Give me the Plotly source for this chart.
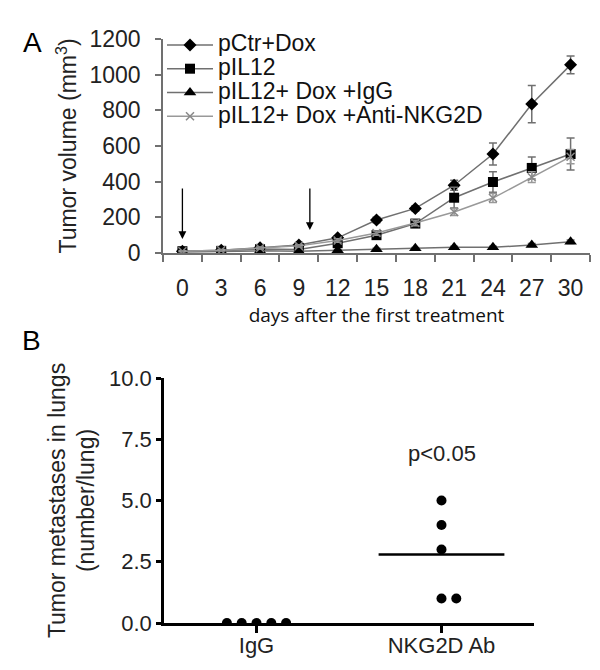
import plotly.graph_objects as go

# ---------------- Panel A data ----------------
days = [0, 3, 6, 9, 12, 15, 18, 21, 24, 27, 30]
pctr_dox = [10, 15, 30, 45, 85, 185, 250, 380, 555, 835, 1055]
pctr_dox_err = [3, 4, 6, 8, 12, 15, 15, 28, 62, 104, 50]
pil12 = [10, 12, 22, 20, 55, 100, 165, 310, 398, 477, 555]
pil12_err = [3, 4, 5, 6, 10, 18, 20, 58, 58, 62, 90]
pil12_dox_igg = [5, 8, 12, 10, 15, 21, 26, 32, 32, 45, 63]
pil12_dox_igg_err = [2, 2, 3, 3, 4, 5, 5, 6, 6, 8, 10]
pil12_dox_anti = [10, 15, 28, 40, 70, 112, 168, 230, 308, 425, 540]
pil12_dox_anti_err = [3, 4, 5, 6, 10, 12, 15, 20, 25, 30, 40]
treatment_days = [0, 9.85]

series_names = ["pCtr+Dox", "pIL12", "pIL12+ Dox +IgG", "pIL12+ Dox +Anti-NKG2D"]

# ---------------- Panel B data ----------------
groups = ["IgG", "NKG2D Ab"]
igg_mets = [0, 0, 0, 0, 0]
nkg2d_mets = [5, 4, 3, 1, 1]
p_text = "p<0.05"

FONT = "Liberation Sans, Arial, sans-serif"
GRAY = "#707070"

# page body has an 8px margin; figure is drawn in the remaining area
OFF = 8
W, H = 600 - OFF, 670 - OFF
def PX(px):
    return (px - OFF) / W
def PY(py):
    return 1 - (py - OFF) / H

fig = go.Figure()

def add_series(y, err, name, symbol, msize, mcolor, lcolor, mline=0):
    fig.add_trace(go.Scatter(
        x=days, y=y, name='<span style="font-size:23px">' + name + '</span>',
        mode="lines+markers",
        line=dict(color=lcolor, width=1.5),
        marker=dict(symbol=symbol, size=msize, color=mcolor,
                    line=dict(width=mline, color=mcolor)),
        error_y=dict(type="data", array=err, color=lcolor, thickness=1.5, width=4),
        xaxis="x", yaxis="y",
    ))

add_series(pctr_dox, pctr_dox_err, series_names[0], "diamond", 10, "black", GRAY)
add_series(pil12, pil12_err, series_names[1], "square", 10, "black", GRAY)
add_series(pil12_dox_igg, pil12_dox_igg_err, series_names[2], "triangle-up", 11, "black", GRAY)
add_series(pil12_dox_anti, pil12_dox_anti_err, series_names[3], "x-thin", 8, "#888888", "#999999", mline=1.5)

# treatment arrows
for d in treatment_days:
    fig.add_annotation(x=d, y=129 if d > 0 else 78, ax=d, ay=370,
                       xref="x", yref="y", axref="x", ayref="y",
                       showarrow=True, arrowhead=2, arrowsize=1.2, arrowwidth=1.3,
                       arrowcolor="black", text="")

# ---------------- Panel B traces ----------------
def dodge(values, step=0.08):
    out = []
    seen = {}
    for v in values:
        k = seen.get(v, 0)
        seen[v] = k + 1
        if k == 0:
            out.append(0.0)
        else:
            m = (k + 1) // 2
            out.append(step * m if k % 2 == 1 else -step * m)
    return out

for gi, vals in enumerate([igg_mets, nkg2d_mets]):
    offs = dodge(vals)
    fig.add_trace(go.Scatter(
        x=[gi + o for o in offs], y=vals, mode="markers",
        marker=dict(symbol="circle", size=10, color="black"),
        xaxis="x2", yaxis="y2", showlegend=False,
    ))
    mean = sum(vals) / len(vals)
    if mean > 0:
        fig.add_trace(go.Scatter(
            x=[gi - 0.34, gi + 0.34], y=[mean, mean], mode="lines",
            line=dict(color="black", width=2.5),
            xaxis="x2", yaxis="y2", showlegend=False,
        ))

fig.add_annotation(x=1, y=6.9, xref="x2", yref="y2", text=p_text, showarrow=False,
                   font=dict(family=FONT, size=22, color="#222"))

# panel letters
fig.add_annotation(x=PX(21), y=PY(25), xref="paper", yref="paper", text="A",
                   showarrow=False, font=dict(family=FONT, size=28, color="black"))
fig.add_annotation(x=PX(20), y=PY(340), xref="paper", yref="paper", text="B",
                   showarrow=False, font=dict(family=FONT, size=28, color="black"))

tickfont = dict(family=FONT, size=23, color="#222")

fig.update_layout(
    width=W, height=H,
    margin=dict(l=0, r=0, t=0, b=0),
    paper_bgcolor="white", plot_bgcolor="white",
    showlegend=True,
    legend=dict(x=PX(162), y=PY(28), xanchor="left", yanchor="top",
                bgcolor="rgba(0,0,0,0)", borderwidth=0,
                font=dict(family=FONT, size=16, color="#111"),
                itemwidth=46, tracegroupgap=0),
    xaxis=dict(
        domain=[PX(163), PX(590)], range=[-1.5, 31.5],
        tickmode="array", tickvals=days, ticks="",
        minor=dict(tickmode="array", tickvals=[d - 1.5 for d in days] + [31.5],
                   ticks="outside", ticklen=7, tickcolor=GRAY, tickwidth=1.5),
        showline=True, linecolor=GRAY, linewidth=1.5, showgrid=False, zeroline=False,
        tickfont=tickfont, ticklabelstandoff=14,
        title=dict(text="days after the first treatment", standoff=8,
                   font=dict(family="Open Sans, sans-serif", size=19, color="#111")),
        automargin=False, anchor="y",
    ),
    yaxis=dict(
        domain=[PY(253), PY(39)], range=[0, 1200],
        tickmode="array", tickvals=[0, 200, 400, 600, 800, 1000, 1200],
        ticks="outside", ticklen=6, tickcolor=GRAY, tickwidth=1.5,
        showline=True, linecolor=GRAY, linewidth=1.5, showgrid=False, zeroline=False,
        tickfont=tickfont, ticklabelstandoff=10,
        title=dict(text="Tumor volume (mm<sup>3</sup>)", standoff=6,
                   font=dict(family=FONT, size=23, color="#222")),
        automargin=False, anchor="x",
    ),
    xaxis2=dict(
        domain=[PX(164), PX(534)], range=[-0.5, 1.5],
        tickmode="array", tickvals=[0, 1], ticktext=groups,
        ticks="outside", ticklen=7, tickcolor="black", tickwidth=2.5,
        showline=True, linecolor="black", linewidth=2.5, showgrid=False, zeroline=False,
        tickfont=dict(family=FONT, size=22, color="#222"), ticklabelstandoff=-6,
        automargin=False, anchor="y2",
    ),
    yaxis2=dict(
        domain=[PY(623), PY(378)], range=[0, 10],
        tickmode="array", tickvals=[0, 2.5, 5, 7.5, 10], tickformat=".1f",
        ticks="outside", ticklen=5, tickcolor="black", tickwidth=2.5,
        showline=True, linecolor="black", linewidth=2.5, showgrid=False, zeroline=False,
        tickfont=dict(family=FONT, size=22, color="#222"),
        title=dict(text="Tumor metastases in lungs<br>(number/lung)", standoff=8,
                   font=dict(family=FONT, size=23, color="#222")),
        automargin=False, anchor="x2",
    ),
)

fig.write_html("out.html")
